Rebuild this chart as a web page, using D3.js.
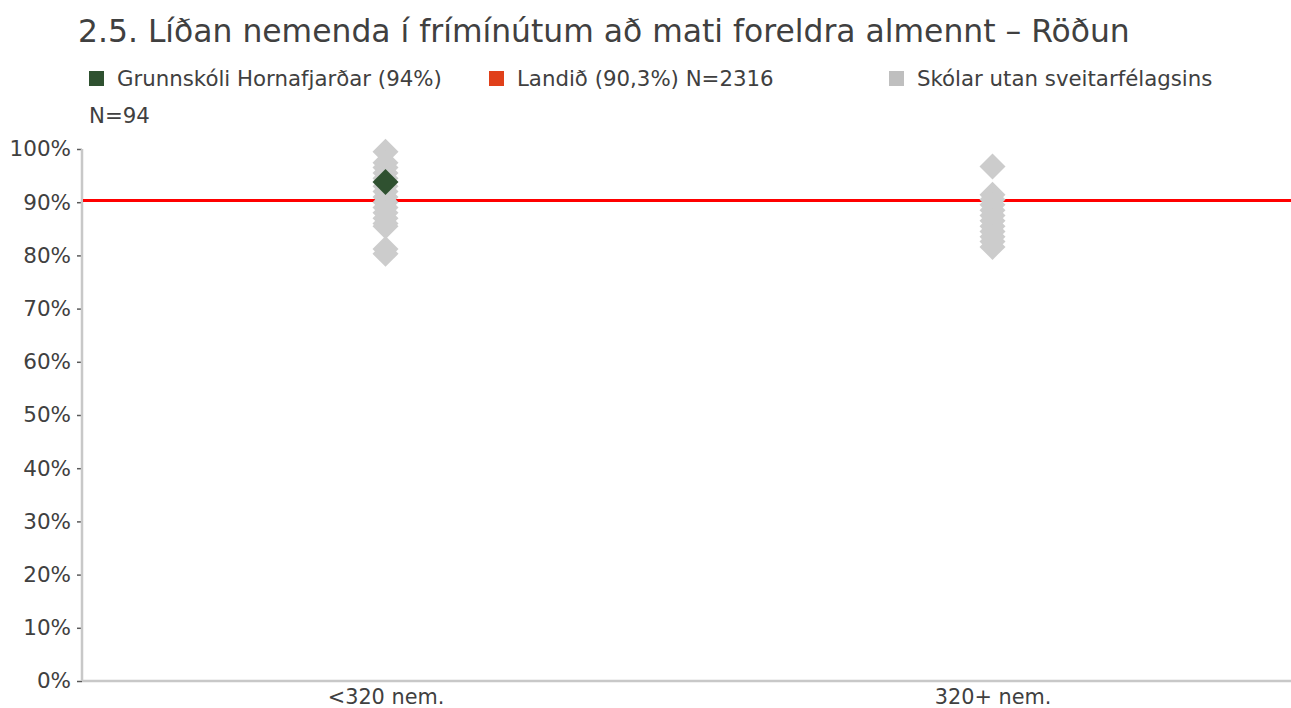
<!DOCTYPE html>
<html>
<head>
<meta charset="utf-8">
<script src="https://cdn.jsdelivr.net/npm/d3@7"></script>
<style>
  html, body { margin: 0; padding: 0; background: #ffffff; }
  svg { display: block; }
  text { font-family: "DejaVu Sans", "Noto Sans", sans-serif; fill: #404040; }
</style>
</head>
<body>
<svg id="chart" width="1291" height="708"></svg>
<script>
// ---- data ----
const categories = ["<320 nem.", "320+ nem."];
const otherSmall = [99.5, 97.4, 96.5, 95.5, 94.5, 93, 92, 91, 90, 89, 88, 87, 86, 85.5, 81.2, 80.3];
const otherLarge = [96.7, 91.4, 90.5, 89.5, 88.5, 87.5, 86.5, 85.5, 84.5, 83.5, 82.6, 81.6];
const schoolValue = [{cat: "<320 nem.", value: 93.8}];
const nationalValue = 90.3;
const yTicks = [0, 10, 20, 30, 40, 50, 60, 70, 80, 90, 100];
const titleText = "2.5. Líðan nemenda í frímínútum að mati foreldra almennt – Röðun";
const legendItems = [
  {label: "Grunnskóli Hornafjarðar (94%)", color: "#2f5130"},
  {label: "Landið (90,3%) N=2316", color: "#e0401a"},
  {label: "Skólar utan sveitarfélagsins", color: "#bfbfbf"}
];
const legendSub = "N=94";

// ---- layout ----
const svg = d3.select("#chart");
const mLeft = 82, mRight = 1296, mTop = 149, mBottom = 681;
const FONT = "DejaVu Sans, Noto Sans, sans-serif";

const x = d3.scalePoint().domain(categories).range([mLeft, mRight]).padding(0.5);
const y = d3.scaleLinear().domain([0, 100]).range([mBottom, mTop]);

// title
svg.append("text").attr("x", 78).attr("y", 42)
  .attr("font-size", 31.4).attr("fill", "#404040").text(titleText);

// legend
const legX = [89, 489, 889];
legendItems.forEach((d, i) => {
  svg.append("rect").attr("x", legX[i]).attr("y", 71).attr("width", 15).attr("height", 15).attr("fill", d.color);
  svg.append("text").attr("x", legX[i] + 28).attr("y", 86).attr("font-size", 21.3).text(d.label);
});
svg.append("text").attr("x", 89).attr("y", 123).attr("font-size", 21.3).text(legendSub);

// axes
const yAxis = svg.append("g").attr("transform", `translate(${mLeft},0)`)
  .call(d3.axisLeft(y).tickValues(yTicks).tickFormat(d => d + "%").tickSize(5).tickPadding(6));
yAxis.select(".domain").remove();
yAxis.selectAll(".tick line").attr("stroke", "#595959").attr("stroke-width", 1.5);
yAxis.selectAll(".tick text").attr("font-size", 21.5).attr("fill", "#404040")
  .attr("font-family", FONT);

svg.append("line").attr("x1", mLeft).attr("x2", mLeft).attr("y1", mTop).attr("y2", mBottom)
  .attr("stroke", "#c8c8c8").attr("stroke-width", 2.5);

const xAxis = svg.append("g").attr("transform", `translate(0,${mBottom})`)
  .call(d3.axisBottom(x).tickSize(0).tickPadding(8));
xAxis.select(".domain").attr("stroke", "#c8c8c8").attr("stroke-width", 2.5)
  .attr("d", `M${mLeft},0H1291`);
xAxis.selectAll(".tick text").attr("font-size", 20.8).attr("fill", "#404040")
  .attr("font-family", FONT);

// national line
svg.append("line").attr("x1", mLeft + 1).attr("x2", 1291)
  .attr("y1", y(nationalValue)).attr("y2", y(nationalValue))
  .attr("stroke", "#ff0000").attr("stroke-width", 3);

// diamonds
const diamond = d3.symbol().type(d3.symbolSquare).size(338);
const grey = [
  ...otherSmall.map(v => ({cat: categories[0], value: v})),
  ...otherLarge.map(v => ({cat: categories[1], value: v}))
];
svg.append("g").selectAll("path").data(grey).join("path")
  .attr("d", diamond)
  .attr("transform", d => `translate(${x(d.cat)},${y(d.value)}) rotate(45)`)
  .attr("fill", "#cccccc");

svg.append("g").selectAll("path").data(schoolValue).join("path")
  .attr("d", diamond)
  .attr("transform", d => `translate(${x(d.cat)},${y(d.value)}) rotate(45)`)
  .attr("fill", "#2f5130");
</script>
</body>
</html>
